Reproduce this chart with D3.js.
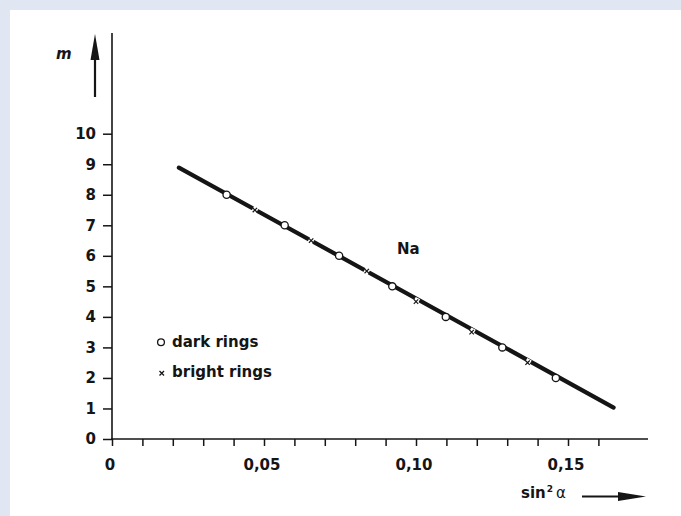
<!DOCTYPE html>
<html>
<head>
<meta charset="utf-8">
<script src="https://cdn.jsdelivr.net/npm/d3@7"></script>
<style>
  body { margin: 0; background: #e0e6f2; }
  svg { display: block; }
  text { font-family: "DejaVu Sans", sans-serif; fill: #151515; }
</style>
</head>
<body>
<svg id="chart" width="681" height="516"></svg>
<script>
// values
var darkM = [8, 7, 6, 5, 4, 3, 2];
var darkSin = [0.0377, 0.0568, 0.0747, 0.0922, 0.1098, 0.1284, 0.146];
var brightM = [7.5, 6.5, 5.5, 4.5, 3.5, 2.5];
var brightSin = [0.047, 0.0655, 0.0838, 0.100, 0.1183, 0.1367];
var fitSin = [0.022, 0.165];
var fitM = [8.89, 1.03];
var yTicks = [0, 1, 2, 3, 4, 5, 6, 7, 8, 9, 10];
var xMinor = d3.range(0, 0.165, 0.01);
var xLabels = [0, 0.05, 0.10, 0.15];

function drawChart() {
    var svg = d3.select("#chart");

    svg.append("rect")
        .attr("x", 10).attr("y", 10)
        .attr("width", 671).attr("height", 506)
        .attr("fill", "#fff");

    var x = d3.scaleLinear().domain([0, 0.01]).range([112, 142.4]);
    var y = d3.scaleLinear().domain([0, 10]).range([439, 133.7]);
    var ink = "#151515";

    // axes lines
    svg.append("line")
        .attr("x1", x(0)).attr("x2", x(0))
        .attr("y1", 33).attr("y2", y(0) + 1)
        .attr("stroke", ink).attr("stroke-width", 1.6);
    svg.append("line")
        .attr("x1", x(0) - 1).attr("x2", 648)
        .attr("y1", y(0)).attr("y2", y(0))
        .attr("stroke", ink).attr("stroke-width", 1.6);

    // y ticks
    var yAxis = d3.axisLeft(y).tickValues(yTicks).tickSize(9).tickPadding(7)
        .tickFormat(d3.format("d"));
    var gy = svg.append("g").attr("transform", "translate(" + x(0) + ",0)").call(yAxis);
    gy.select(".domain").remove();
    gy.selectAll(".tick line").attr("stroke", ink).attr("stroke-width", 1.5);
    gy.selectAll(".tick text")
        .attr("font-size", 15).attr("font-weight", "bold")
        .attr("font-family", "DejaVu Sans, sans-serif")
        .attr("fill", ink);

    // x ticks
    var xAxis = d3.axisBottom(x).tickValues(xMinor).tickSize(7).tickFormat("");
    var gx = svg.append("g").attr("transform", "translate(0," + y(0) + ")").call(xAxis);
    gx.select(".domain").remove();
    gx.selectAll(".tick line").attr("stroke", ink).attr("stroke-width", 1.5);

    svg.selectAll(".xlab")
        .data(xLabels)
        .enter().append("text")
        .attr("class", "xlab")
        .attr("x", function(d) { return x(d) - 2; })
        .attr("y", 470)
        .attr("text-anchor", "middle")
        .attr("font-size", 15).attr("font-weight", "bold")
        .text(function(d) { return d === 0 ? "0" : d3.format(".2f")(d).replace(".", ","); });

    // fitted line
    var line = d3.line()
        .x(function(d) { return x(d[0]); })
        .y(function(d) { return y(d[1]); });
    svg.append("path")
        .datum(d3.zip(fitSin, fitM))
        .attr("d", line)
        .attr("fill", "none")
        .attr("stroke", ink)
        .attr("stroke-width", 4.2)
        .attr("stroke-linecap", "round");

    // gaps + crosses for bright rings
    var ang = Math.atan2(y(fitM[1]) - y(fitM[0]), x(fitSin[1]) - x(fitSin[0])) * 180 / Math.PI;
    var br = svg.selectAll(".bright")
        .data(d3.zip(brightSin, brightM))
        .enter().append("g")
        .attr("class", "bright")
        .attr("transform", function(d) {
            return "translate(" + x(d[0]) + "," + y(d[1]) + ") rotate(" + ang + ")";
        });
    br.append("rect")
        .attr("x", -2.5).attr("y", -4).attr("width", 5).attr("height", 8)
        .attr("fill", "#fff");
    br.append("path")
        .attr("d", "M-2.2,-2.2L2.2,2.2M-2.2,2.2L2.2,-2.2")
        .attr("stroke", ink).attr("stroke-width", 1.2)
        .attr("transform", "rotate(" + (-ang) + ")");

    // dark rings
    svg.selectAll(".dark")
        .data(d3.zip(darkSin, darkM))
        .enter().append("circle")
        .attr("class", "dark")
        .attr("cx", function(d) { return x(d[0]); })
        .attr("cy", function(d) { return y(d[1]); })
        .attr("r", 3.6)
        .attr("fill", "#fff")
        .attr("stroke", ink)
        .attr("stroke-width", 1.3);

    svg.append("text")
        .attr("x", 397).attr("y", 254)
        .attr("font-size", 15).attr("font-weight", "bold")
        .text("Na");

    // legend
    svg.append("circle")
        .attr("cx", 161).attr("cy", 342.3).attr("r", 3.4)
        .attr("fill", "#fff").attr("stroke", ink).attr("stroke-width", 1.3);
    svg.append("text")
        .attr("x", 172).attr("y", 347)
        .attr("font-size", 15).attr("font-weight", "bold")
        .text("dark rings");
    svg.append("path")
        .attr("d", "M159.5,371L164,375.5M159.5,375.5L164,371")
        .attr("stroke", ink).attr("stroke-width", 1.3);
    svg.append("text")
        .attr("x", 172).attr("y", 377)
        .attr("font-size", 15).attr("font-weight", "bold")
        .text("bright rings");

    // axis titles with arrows
    svg.append("text")
        .attr("x", 56).attr("y", 59)
        .attr("font-size", 15).attr("font-weight", "bold").attr("font-style", "italic")
        .text("m");
    svg.append("line")
        .attr("x1", 95).attr("x2", 95).attr("y1", 97).attr("y2", 55)
        .attr("stroke", ink).attr("stroke-width", 2.2);
    svg.append("path")
        .attr("d", "M95,34L99.5,60L90.5,60Z")
        .attr("fill", ink);

    var xt = svg.append("text")
        .attr("x", 521).attr("y", 498)
        .attr("font-size", 15).attr("font-weight", "bold");
    xt.append("tspan").text("sin");
    xt.append("tspan").attr("font-size", 9).attr("dy", -6).attr("dx", 1).text("2");
    xt.append("tspan").attr("dy", 6).attr("dx", 3).attr("font-weight", "normal").text("α");
    svg.append("line")
        .attr("x1", 582).attr("x2", 625).attr("y1", 496.5).attr("y2", 496.5)
        .attr("stroke", ink).attr("stroke-width", 2.2);
    svg.append("path")
        .attr("d", "M646,496.5L618,492L618,501Z")
        .attr("fill", ink);
}

drawChart();
</script>
</body>
</html>
